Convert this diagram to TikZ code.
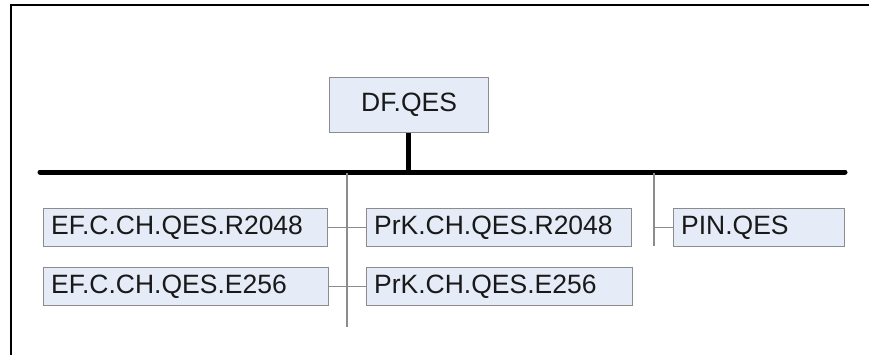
\documentclass[tikz,border=0pt]{standalone}
\usepackage{fontspec}
\setmainfont{Liberation Sans}
\begin{document}
\begin{tikzpicture}[x=1pt,y=-1pt,
  orgbox/.style={draw=boxgray, fill=boxfill, line width=1.2pt, rectangle, inner sep=0pt,
    minimum height=38pt, anchor=north west, font=\fontsize{26.5}{26.5}\selectfont,
    text=black!90, align=left},
  thin/.style={draw=linegray, line width=1.2pt},
  thick/.style={draw=black, line width=5pt, line cap=round}]
\definecolor{boxfill}{HTML}{E6ECF7}
\definecolor{boxgray}{HTML}{8C8C8C}
\definecolor{linegray}{HTML}{8C8C8C}
\useasboundingbox (0,0) rectangle (869,354);
\begin{scope}
\clip (0,0) rectangle (869,354);
\draw[line width=2.2pt, black] (11,5) rectangle (900,400);
\end{scope}
% root
\node[orgbox, minimum width=159pt, minimum height=55pt, text width=159pt, align=center] (df) at (329,77) {DF.QES};
\coordinate (busL) at (40,172);
\coordinate (busR) at (845,172);
\coordinate (busM) at (408,172);
\draw[thick] (busL) -- (busR);
\draw[draw=black, line width=5pt] (df.south -| busM) -- (busM);
% boxes
\node[orgbox, minimum width=284pt, text width=279pt] (efr) at (43,208) {\hspace*{5pt}EF.C.CH.QES.R2048};
\node[orgbox, minimum width=285pt, text width=280pt] (efe) at (43,267) {\hspace*{5pt}EF.C.CH.QES.E256};
\node[orgbox, minimum width=265pt, text width=260pt] (pkr) at (366,208) {\hspace*{5pt}PrK.CH.QES.R2048};
\node[orgbox, minimum width=266pt, text width=261pt] (pke) at (366,267) {\hspace*{5pt}PrK.CH.QES.E256};
\node[orgbox, minimum width=171pt, text width=166pt] (pin) at (673,208) {\hspace*{5pt}PIN.QES};
% connectors
\coordinate (v1top) at (347,173);
\coordinate (v1bot) at (347,327);
\coordinate (v2top) at (654,173);
\coordinate (v2bot) at (654,246);
\draw[thin] (v1top) -- (v1bot);
\draw[thin] (v2top) -- (v2bot);
\draw[thin] (efr.east) -- (pkr.west);
\draw[thin] (efe.east) -- (pke.west);
\draw[thin] (pin.west -| v2top) -- (pin.west);
\end{tikzpicture}
\end{document}
